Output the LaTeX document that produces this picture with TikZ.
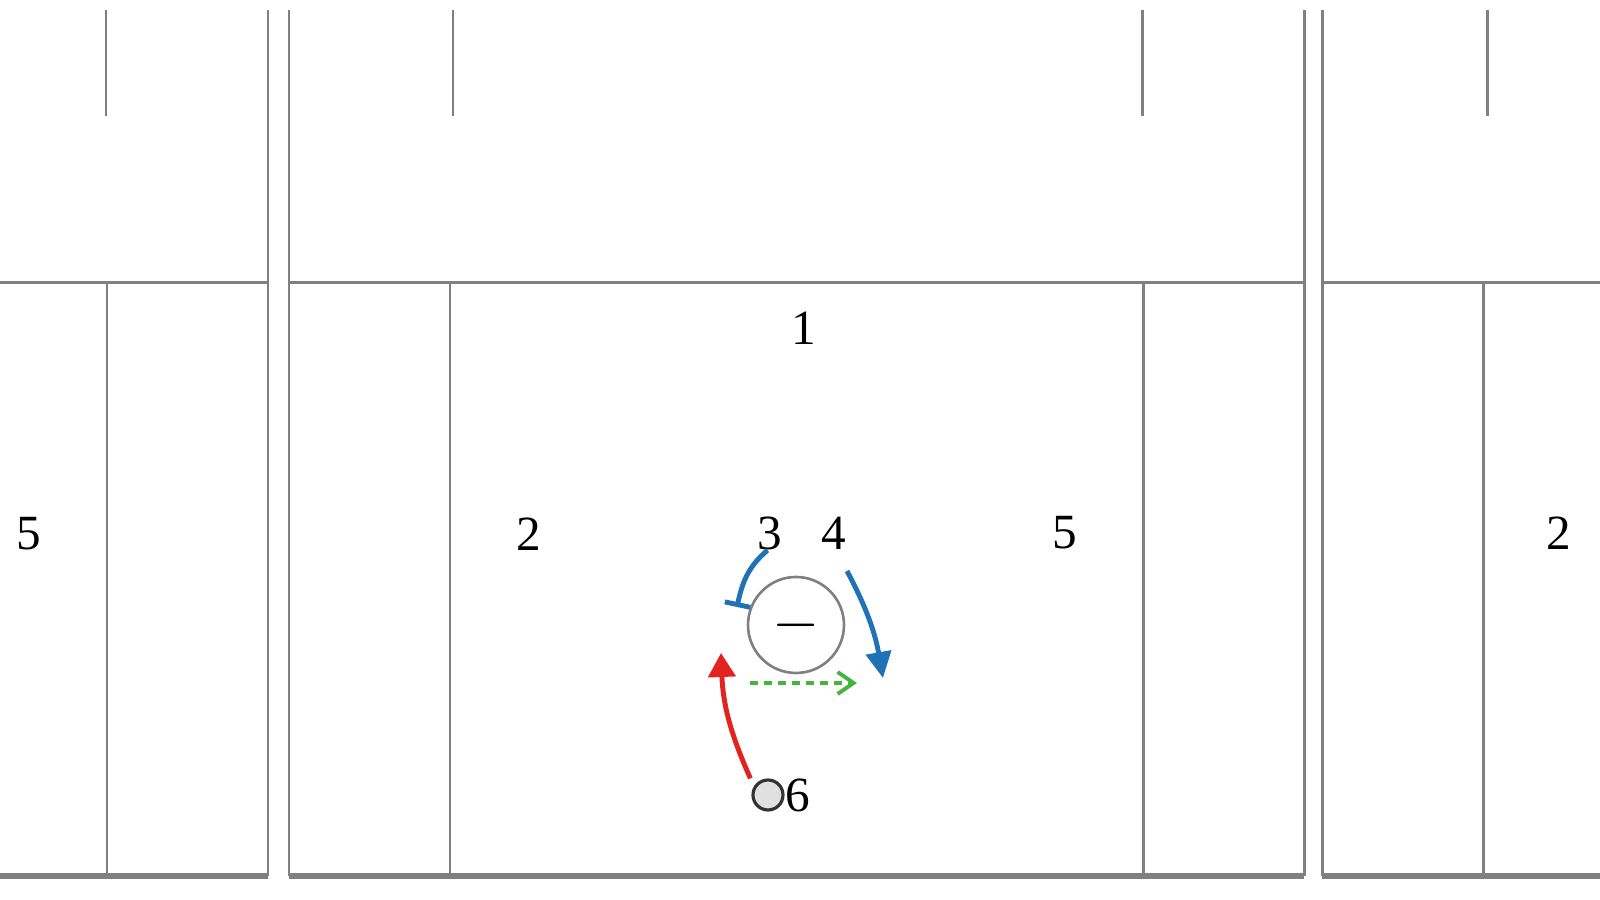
\documentclass[tikz,border=0pt]{standalone}
\usepackage{fontspec}
\setmainfont{Liberation Serif}
\usepackage{xcolor}
\definecolor{wallgray}{RGB}{128,128,128}
\definecolor{moveblue}{RGB}{31,114,181}
\definecolor{movered}{RGB}{226,35,30}
\definecolor{passgreen}{RGB}{70,180,60}
\usepackage{tikz}
\usetikzlibrary{arrows.meta}
\newcommand{\sizeblocker}{9.6mm}
\newcommand{\sizemarker}{3mm}
\tikzset{
    wall/.style={draw=wallgray, line width=0.85pt},
    floorline/.style={wall, line width=1.5pt},
    lane/.style={inner sep=0pt, font=\fontsize{14}{16}\selectfont},
    blocker/.style={draw=wallgray, circle, line width=0.75pt, minimum size=\sizeblocker, inner sep=0pt},
    marker/.style={draw=black!80, fill=black!12, circle, line width=0.9pt, minimum size=\sizemarker, inner sep=0pt},
    run-blue/.style={moveblue, line width=1.4pt},
    run-red/.style={movered, line width=1.4pt},
    pass-green/.style={passgreen, line width=1.1pt, dash pattern=on 0.8mm off 0.6mm}
}

\begin{document}
\begin{tikzpicture}[x=0.1mm, y=0.1mm]
    \useasboundingbox (0,0) rectangle (1600,900);
    \draw[wall] (0,617) -- (268,617) (268,890) -- (268,24) (107,617) -- (107,24) (106,890) -- (106,784);
    \draw[wall] (289,24) -- (289,890) (1304,890) -- (1304,24) (289,617) -- (1304,617)
        (450,617) -- (450,24) (1143,617) -- (1143,24) (453,890) -- (453,784) (1142,890) -- (1142,784);
    \draw[wall] (1322,24) -- (1322,890) (1322,617) -- (1600,617) (1483,617) -- (1483,24) (1487,890) -- (1487,784);
    \draw[floorline] (0,24) -- (268,24) (289,24) -- (1304,24) (1322,24) -- (1600,24);

    \node[lane] (fiveL) at (29,366) {5};
    \node[lane] (twoL) at (529,366) {2};
    \node[lane] (one) at (804,572) {1};
    \node[lane] (three) at (770,367) {3};
    \node[lane] (four) at (834,367) {4};
    \node[lane] (fiveR) at (1065,367) {5};
    \node[lane] (twoR) at (1559,367) {2};

    \node[blocker] (blocker) at (796,275) {\fontsize{16}{16}\selectfont$-$};
    \node[marker] (marker) at (768,105) {};
    \node[lane] (six) at (798,105) {6};

    \coordinate (threeend) at (737,293);
    \coordinate (fourend) at (883,222);
    \coordinate (sixend) at (721,247);
    \coordinate (passstart) at (750,217);
    \coordinate (passend) at (857,217);

    \draw[run-blue, -{Bar[width=2.6mm]}] ([xshift=3]three.south west) to[out=220, in=78] (threeend);
    \draw[run-blue, -{Triangle[length=2.6mm, width=2.5mm]}] ([yshift=-6]four.south east) to[out=-62, in=100] (fourend);
    \draw[run-red, -{Triangle[length=2.4mm, width=2.7mm]}] ([xshift=-5]marker.north) to[bend left=11] (sixend);
    \draw[pass-green, -{Straight Barb[length=1.6mm, width=2.2mm]}] (passstart) -- (passend);
\end{tikzpicture}
\end{document}
